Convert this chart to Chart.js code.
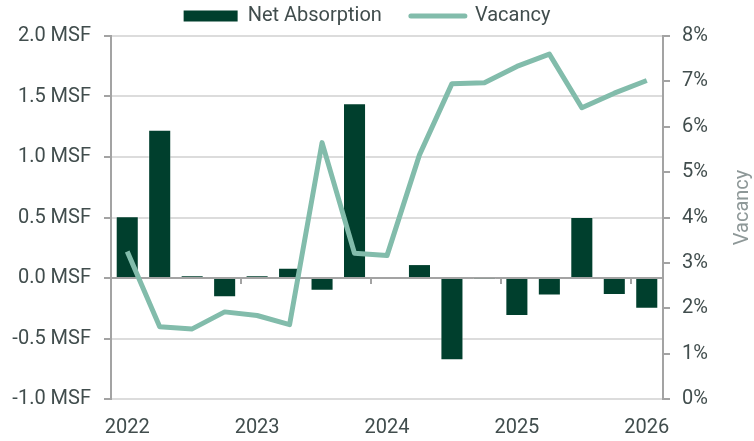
<!DOCTYPE html>
<html><head><meta charset="utf-8">
<script src="https://cdn.jsdelivr.net/npm/chart.js@4/dist/chart.umd.min.js"></script>
<style>html,body{margin:0;padding:0;background:#fff}#wrap{width:754px;height:441px;position:relative}</style>
</head><body><div id="wrap"><canvas id="c" width="754" height="441"></canvas></div>
<script>
const quarters = ['2022 Q1','2022 Q2','2022 Q3','2022 Q4','2023 Q1','2023 Q2','2023 Q3','2023 Q4','2024 Q1','2024 Q2','2024 Q3','2024 Q4','2025 Q1','2025 Q2','2025 Q3','2025 Q4','2026 Q1'];
const netAbsorption = [0.51, 1.225, 0.02, -0.16, 0.02, 0.085, -0.105, 1.445, 0.01, 0.115, -0.68, -0.005, -0.315, -0.145, 0.505, -0.14, -0.255];
const vacancy = [3.25, 1.59, 1.545, 1.92, 1.84, 1.64, 5.65, 3.21, 3.16, 5.38, 6.95, 6.97, 7.33, 7.6, 6.42, 6.74, 7.02];
const seriesNames = ['Net Absorption', 'Vacancy'];
const rightAxisTitle = 'Vacancy';

const FONT = 'Roboto';
const TXT = '#414d4d';
const AXIS = '#a3a3a3';
const GRID = '#dcdcdc';
const BAR = '#003f2d';
const LINE = '#82bcab';

const vacancyTitle = {
  id: 'vacancyTitle',
  afterDraw(chart) {
    const s = chart.scales.y1, a = chart.chartArea, ctx = chart.ctx;
    ctx.save();
    ctx.translate(s.right + 9, (a.top + a.bottom) / 2 - 10);
    ctx.rotate(-Math.PI / 2);
    ctx.font = '20px ' + FONT;
    ctx.fillStyle = '#8e9898';
    ctx.textAlign = 'center';
    ctx.textBaseline = 'middle';
    ctx.fillText(rightAxisTitle, 0, 0);
    ctx.restore();
  }
};

new Chart(document.getElementById('c'), {
  type: 'bar',
  data: {
    labels: quarters,
    datasets: [
      { type: 'bar', label: seriesNames[0], data: netAbsorption, backgroundColor: BAR,
        borderColor: 'rgba(255,255,255,0.45)', borderWidth: 1,
        xAxisID: 'x', yAxisID: 'y', order: 1, barPercentage: 0.71, categoryPercentage: 1 },
      { type: 'line', label: seriesNames[1], data: vacancy, borderColor: LINE, backgroundColor: LINE,
        borderWidth: 5, pointRadius: 0, tension: 0, borderJoinStyle: 'round', fill: false,
        xAxisID: 'x', yAxisID: 'y1', order: 0 }
    ]
  },
  options: {
    responsive: false, animation: false, devicePixelRatio: 1,
    layout: { padding: { top: -23, right: 20, left: 0, bottom: 0 } },
    plugins: {
      tooltip: { enabled: false },
      legend: {
        position: 'top', align: 'center',
        labels: {
          color: TXT, font: { family: FONT, size: 20 }, padding: 29,
          usePointStyle: true, pointStyleWidth: 54, boxHeight: 11,
          sort: (a, b) => a.datasetIndex - b.datasetIndex,
          generateLabels(chart) {
            const items = Chart.defaults.plugins.legend.labels.generateLabels(chart);
            return items.map(it => {
              if (it.datasetIndex === 0) { it.pointStyle = 'rect'; it.lineWidth = 0; it.fillStyle = BAR; it.strokeStyle = BAR; }
              else { it.pointStyle = 'line'; it.lineWidth = 5; it.strokeStyle = LINE; it.lineCap = 'round'; }
              return it;
            });
          }
        }
      }
    },
    scales: {
      x: {
        type: 'category', position: { y: 0 }, offset: true,
        grid: { display: true, offset: true, drawOnChartArea: false, drawTicks: true, tickLength: 5, lineWidth: 2,
          tickColor: (ctx) => (ctx.index % 4 === 0 ? AXIS : 'rgba(0,0,0,0)') },
        border: { display: true, color: AXIS, width: 2 },
        ticks: { display: false }
      },
      x2: {
        type: 'category', position: 'bottom', offset: true,
        grid: { display: false, drawTicks: false },
        border: { display: false },
        ticks: { autoSkip: false, maxRotation: 0, padding: 17, color: TXT, font: { family: FONT, size: 20 },
          callback: function (v, i) { return i % 4 === 0 ? quarters[i].slice(0, 4) : ''; } },
        afterFit(s) { s.height = 42; }
      },
      y: {
        position: 'left', min: -1, max: 2,
        ticks: { stepSize: 0.5, padding: 13, color: TXT, font: { family: FONT, size: 20 },
          callback: (v) => v.toFixed(1) + ' MSF' },
        grid: { color: (ctx) => (ctx.tick && ctx.tick.value === 0 ? AXIS : GRID), lineWidth: 2, tickLength: 7, tickColor: AXIS },
        border: { display: true, color: AXIS, width: 2 },
        afterFit(s) { s.width = 111; }
      },
      y1: {
        position: 'right', min: 0, max: 8,
        ticks: { stepSize: 1, padding: 12, color: TXT, font: { family: FONT, size: 20 },
          callback: (v) => v + '%' },
        grid: { drawOnChartArea: false, tickLength: 7, tickColor: AXIS, lineWidth: 2 },
        border: { display: true, color: AXIS, width: 2 },
        title: { display: false },
        afterFit(s) { s.width = 71; }
      }
    }
  },
  plugins: [vacancyTitle]
});
</script></body></html>
